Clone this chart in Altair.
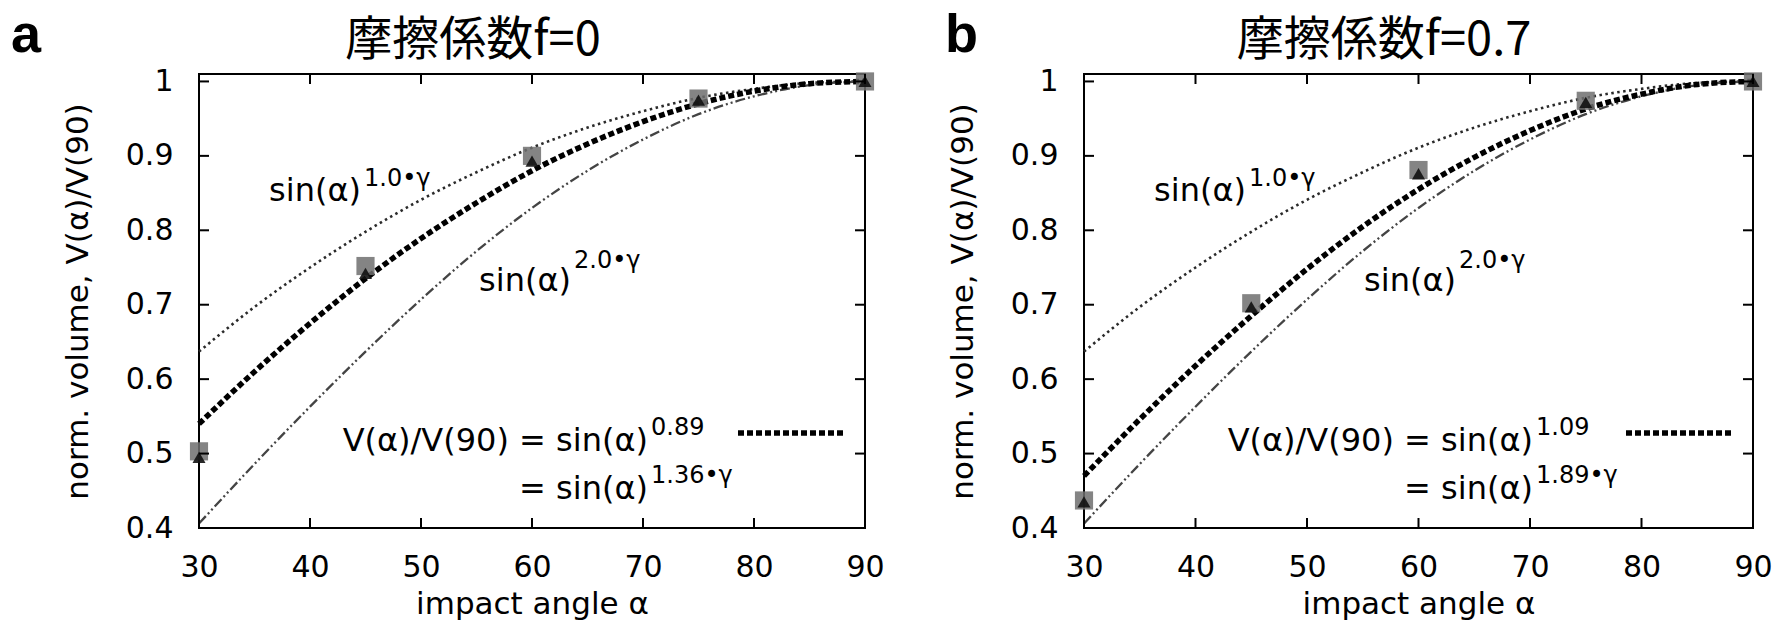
import altair as alt
import pandas as pd

# ---------------- data ----------------
ANGLES = [30, 35, 40, 45, 50, 55, 60, 65, 70, 75, 80, 85, 90]
# reference curves sin(a)^(1.0*gamma) and sin(a)^(2.0*gamma)
CURVE_1G = [0.637, 0.697, 0.750, 0.798, 0.841, 0.878, 0.911, 0.938, 0.960, 0.978, 0.990, 0.998, 1.0]
CURVE_2G = [0.406, 0.486, 0.563, 0.637, 0.707, 0.772, 0.830, 0.880, 0.922, 0.956, 0.980, 0.995, 1.0]
# fitted curves
FIT_A = [0.540, 0.610, 0.675, 0.735, 0.789, 0.837, 0.880, 0.916, 0.946, 0.970, 0.987, 0.997, 1.0]
FIT_B = [0.470, 0.546, 0.618, 0.685, 0.748, 0.805, 0.855, 0.898, 0.934, 0.963, 0.983, 0.996, 1.0]

PT_X = [30, 45, 60, 75, 90]
A_SQUARE = [0.503, 0.752, 0.900, 0.977, 1.0]
A_TRIANGLE = [0.495, 0.742, 0.893, 0.975, 1.0]
B_SQUARE = [0.437, 0.702, 0.881, 0.974, 1.0]
B_TRIANGLE = [0.435, 0.697, 0.876, 0.972, 1.0]

X_TICKS = [30, 40, 50, 60, 70, 80, 90]
Y_TICKS = [0.4, 0.5, 0.6, 0.7, 0.8, 0.9, 1.0]

PANELS = [
    {"letter": "a", "title": "摩擦係数f=0", "fit": FIT_A, "sq": A_SQUARE, "tri": A_TRIANGLE,
     "exp": "0.89", "gexp": "1.36•γ", "width": 666, "title_x": 274, "letter_x": -188},
    {"letter": "b", "title": "摩擦係数f=0.7", "fit": FIT_B, "sq": B_SQUARE, "tri": B_TRIANGLE,
     "exp": "1.09", "gexp": "1.89•γ", "width": 669, "title_x": 300, "letter_x": -139},
]

H = 454
FONT = "DejaVu Sans"


def one_row():
    return pd.DataFrame({"k": [0]})


def text_layer(txt, x, y, size, align="left", baseline="alphabetic", font=FONT, weight="normal", color="black"):
    return alt.Chart(one_row()).mark_text(
        align=align, baseline=baseline, font=font, fontSize=size, fontWeight=weight, color=color
    ).encode(x=alt.value(x), y=alt.value(y), text=alt.value(txt))


def make_panel(p):
    W = p["width"]
    xs = alt.Scale(domain=[30, 90], nice=False, zero=False)
    ys = alt.Scale(domain=[0.4, 1.01], nice=False, zero=False)

    curves = pd.DataFrame({
        "x": ANGLES * 3,
        "y": CURVE_1G + CURVE_2G + p["fit"],
        "kind": ["g1"] * len(ANGLES) + ["g2"] * len(ANGLES) + ["fit"] * len(ANGLES),
    })
    pts = pd.DataFrame({
        "x": PT_X * 2,
        "y": p["sq"] + p["tri"],
        "kind": ["sq"] * len(PT_X) + ["tri"] * len(PT_X),
    })

    x_enc = alt.X("x:Q", scale=xs, axis=alt.Axis(
        values=X_TICKS, labelPadding=24, tickSize=0, labelFlush=False, title="impact angle α",
        titleX=W / 2, titleY=76, titleBaseline="middle", titleAlign="center"))
    y_enc = alt.Y("y:Q", scale=ys, axis=alt.Axis(
        values=Y_TICKS, format="~g", labelPadding=26, tickSize=0, labelFlush=False,
        title="norm. volume, V(α)/V(90)", titleX=-121, titleY=H / 2,
        titleAngle=-90, titleBaseline="middle", titleAlign="center"))

    base = alt.Chart(curves).encode(x=x_enc, y=y_enc)
    g1 = base.transform_filter("datum.kind == 'g1'").mark_line(
        color="#2a2a2a", strokeWidth=2.6, strokeDash=[2.5, 3.5], interpolate="monotone")
    g2 = base.transform_filter("datum.kind == 'g2'").mark_line(
        color="#444444", strokeWidth=2.3, strokeDash=[10, 3, 2, 3, 2, 3], interpolate="monotone")
    fit = base.transform_filter("datum.kind == 'fit'").mark_line(
        color="black", strokeWidth=5.5, strokeDash=[6, 3], interpolate="monotone")

    pbase = alt.Chart(pts).encode(x=alt.X("x:Q", scale=xs), y=alt.Y("y:Q", scale=ys))
    sq = pbase.transform_filter("datum.kind == 'sq'").mark_point(
        shape="square", filled=True, size=330, color="#6e6e6e", opacity=0.85)
    tri = pbase.transform_filter("datum.kind == 'tri'").mark_point(
        shape="triangle-up", filled=True, size=170, color="#111111", opacity=0.9)

    xt = pd.DataFrame({"x": X_TICKS})
    yt = pd.DataFrame({"y": Y_TICKS})
    tick_style = dict(color="black", strokeWidth=2)
    bt = alt.Chart(xt).mark_rule(**tick_style).encode(
        x=alt.X("x:Q", scale=xs), y=alt.value(H), y2=alt.value(H - 10))
    tt = alt.Chart(xt).mark_rule(**tick_style).encode(
        x=alt.X("x:Q", scale=xs), y=alt.value(0), y2=alt.value(10))
    lt = alt.Chart(yt).mark_rule(**tick_style).encode(
        y=alt.Y("y:Q", scale=ys), x=alt.value(0), x2=alt.value(10))
    rt = alt.Chart(yt).mark_rule(**tick_style).encode(
        y=alt.Y("y:Q", scale=ys), x=alt.value(W), x2=alt.value(W - 10))

    # legend sample for the fit line
    leg = alt.Chart(one_row()).mark_rule(color="black", strokeWidth=5.5, strokeDash=[6, 3]).encode(
        x=alt.value(W - 127), x2=alt.value(W - 21), y=alt.value(359))

    txt = [
        text_layer("sin(α)", 162, 127, 32, align="right"),
        text_layer("1.0•γ", 165, 112, 24),
        text_layer("sin(α)", 372, 217, 32, align="right"),
        text_layer("2.0•γ", 375, 194, 24),
        text_layer("V(α)/V(90) = sin(α)", 449, 377, 32, align="right"),
        text_layer(p["exp"], 452, 361, 24),
        text_layer("= sin(α)", 449, 425, 32, align="right"),
        text_layer(p["gexp"], 452, 409, 24),
        text_layer(p["letter"], p["letter_x"], -22, 54, font="Liberation Sans", weight="bold"),
        text_layer(p["title"], p["title_x"], -19, 47, align="center", font="Noto Sans CJK JP"),
    ]

    return alt.layer(g1, g2, fit, sq, tri, bt, tt, lt, rt, leg, *txt).properties(width=W, height=H)


chart = alt.hconcat(*[make_panel(p) for p in PANELS], spacing=58).properties(
    padding={"left": 10, "top": 8, "right": 5, "bottom": 5},
    background="white",
).configure_view(
    stroke="black", strokeWidth=2
).configure_axis(
    grid=False, domain=False, ticks=False,
    labelFont=FONT, labelFontSize=30, labelColor="black",
    titleFont=FONT, titleFontSize=31, titleColor="black", titleFontWeight="normal",
)

chart.save("out.html", embed_options={"renderer": "svg", "actions": False})
